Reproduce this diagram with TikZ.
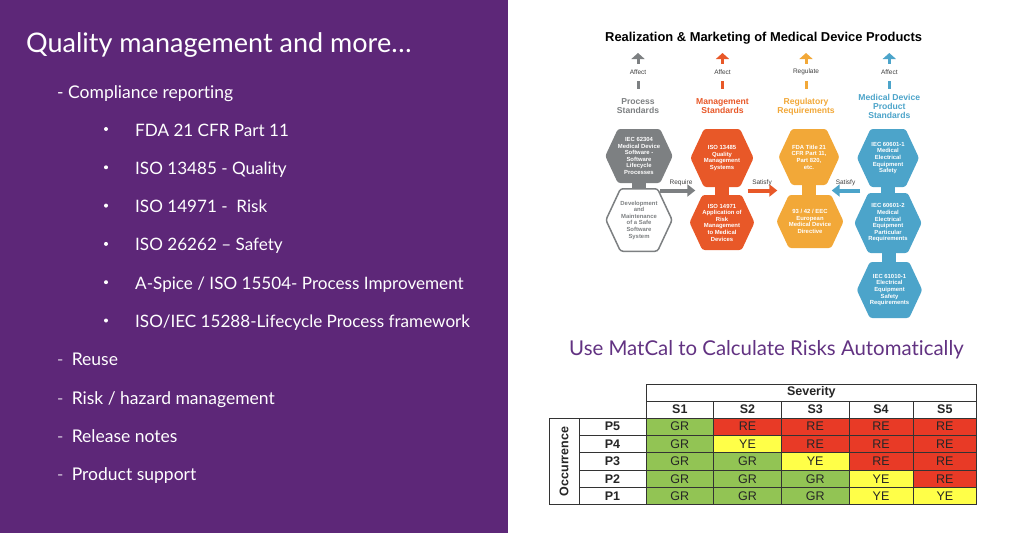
\documentclass[tikz,border=0pt]{standalone}
\usepackage{fontspec}
\setmainfont{Lato}[Ligatures=NoCommon]
\newfontfamily\arial{Liberation Sans}
\usetikzlibrary{positioning,shapes.symbols,arrows.meta,backgrounds}
\definecolor{slidepurple}{RGB}{93,39,120}
\definecolor{titlepurple}{RGB}{98,50,130}
\definecolor{procgray}{RGB}{125,128,130}
\definecolor{mgmtorange}{RGB}{232,88,40}
\definecolor{reggold}{RGB}{242,168,56}
\definecolor{devblue}{RGB}{76,164,202}
\definecolor{GR}{RGB}{146,196,84}
\definecolor{RE}{RGB}{232,58,38}
\definecolor{YE}{RGB}{255,255,72}
\tikzstyle{slidetitle} = [anchor=base west, text=white, inner sep=0, font=\fontsize{27}{32}\selectfont]
\tikzstyle{slideitem} = [anchor=base west, text=white, inner sep=0, font=\fontsize{17.5}{21}\selectfont]
\tikzstyle{bulletitem} = [slideitem, font=\fontsize{17.1}{21}\selectfont]
\tikzstyle{dotmark} = [circle, fill=white, minimum size=4pt, inner sep=0]
\tikzstyle{dashmark} = [anchor=base west, text=white!75!slidepurple, inner sep=0, font=\fontsize{17}{20}\selectfont]
\tikzstyle{hexa} = [signal, signal to=west and east, signal pointer angle=130, rounded corners=2.5pt, inner sep=0pt, align=center, text=white, font=\arial\bfseries\fontsize{5.9}{6.6}\selectfont]
\tikzstyle{neck} = [rectangle, minimum width=13pt, minimum height=16pt, inner sep=0]
\tikzstyle{colhead} = [align=center, inner sep=0, font=\arial\bfseries\fontsize{8.6}{9}\selectfont]
\tikzstyle{tag} = [inner sep=0, text=black!75, font=\arial\fontsize{6.5}{7}\selectfont]
\tikzstyle{bar} = [rectangle, minimum width=3pt, minimum height=8pt, inner sep=0]
\tikzstyle{flow} = [line width=4pt, -{Triangle[width=12pt,length=8pt]}]
\tikzstyle{icon} = [line width=3pt, -{Triangle[width=13pt,length=6pt]}]
\tikzstyle{cell} = [draw=black!80, line width=0.9pt, minimum height=17.35pt, inner sep=0, outer sep=0, text=black!85, font=\arial\fontsize{12.5}{13}\selectfont]
\tikzstyle{boldcell} = [cell, font=\arial\bfseries\fontsize{12.5}{13}\selectfont]

\begin{document}
\begin{tikzpicture}[x=1pt, y=-1pt]
\useasboundingbox (0,0) rectangle (1024,533);

% slide text
\node[slidetitle] (title) at (26,52) {Quality management and more…};
\node[slideitem] (compliance) at (57,98.5) {- Compliance reporting};
\foreach \txt [count=\i from 0] in {FDA 21 CFR Part 11, ISO 13485 - Quality, ISO 14971 - \ Risk, ISO 26262 – Safety, A-Spice / ISO 15504- Process Improvement, ISO/IEC 15288-Lifecycle Process framework}{
	\node[dotmark] (dot\i) at (106,129+38.3*\i) {};
	\node[bulletitem] (item\i) at (135,136+38.3*\i) {\txt};
}
\foreach \txt [count=\i from 6] in {Reuse, Risk / hazard management, Release notes, Product support}{
	\node[dashmark] (dash\i) at (57,136+38.3*\i) {-};
	\node[slideitem] (item\i) at (71.6,136+38.3*\i) {\txt};
}

% standards diagram
\node[anchor=base west, inner sep=0, font=\arial\bfseries\fontsize{12.9}{14}\selectfont] (rmtitle) at (605,41.7) {Realization \& Marketing of Medical Device Products};
\foreach \n/\x/\col/\act/\hd in {proc/638/procgray/Affect/{Process\\Standards}, mgmt/722.5/mgmtorange/Affect/{Management\\Standards}, reg/806/reggold/Regulate/{Regulatory\\Requirements}, dev/889.3/devblue/Affect/{Medical Device\\Product\\Standards}}{
	\coordinate (\n tail) at (\x,63.5);
	\coordinate (\n tip) at (\x,53);
	\draw[icon, \col] (\n tail) -- (\n tip);
	\node[tag] (\n tag) at (\x,71.7) {\act};
	\node[bar, fill=\col] (\n bar) at (\x,84.5) {};
	\node[colhead, text=\col] (\n head) at (\x,106.5) {\hd};
}

\node[hexa, fill=procgray, minimum width=64pt, minimum height=54pt] (proc1) at (639,156) {IEC 62304\\Medical Device\\Software -\\Software\\Lifecycle\\Processes};
\node[hexa, fill=white, draw=procgray, line width=1.5pt, text=procgray, minimum width=62.5pt, minimum height=62.5pt] (proc2) at (639,220) {Development\\and\\Maintenance\\of a Safe\\Software\\System};
\node[hexa, fill=mgmtorange, minimum width=62pt, minimum height=58pt] (mgmt1) at (722,158) {ISO 13485\\Quality\\Management\\Systems};
\node[hexa, fill=mgmtorange, minimum width=62pt, minimum height=55pt] (mgmt2) at (722,222.5) {ISO 14971\\Application of\\Risk\\Management\\to Medical\\Devices};
\node[hexa, fill=reggold, minimum width=58pt, minimum height=56pt] (reg1) at (809,157) {FDA Title 21\\CFR Part 11,\\Part 820,\\etc.};
\node[hexa, fill=reggold, minimum width=60pt, minimum height=53pt] (reg2) at (810,221.5) {93 / 42 / EEC\\European\\Medical Device\\Directive};
\node[hexa, fill=devblue, minimum width=62pt, minimum height=58pt] (dev1) at (888,158) {IEC 60601-1\\Medical\\Electrical\\Equipment\\Safety};
\node[hexa, fill=devblue, minimum width=62pt, minimum height=60pt] (dev2) at (888,223) {IEC 60601-2\\Medical\\Electrical\\Equipment\\Particular\\Requirements};
\node[hexa, fill=devblue, minimum width=63pt, minimum height=56pt] (dev3) at (889.5,290) {IEC 61010-1\\Electrical\\Equipment\\Safety\\Requirements};

\node[neck] (procneck) at (639,185.5) {};
\node[neck] (mgmtneck) at (722,190.5) {};
\node[neck] (regneck) at (809,190.5) {};
\node[neck] (devneck) at (888,190.5) {};
\node[neck] (devneckb) at (889,257.5) {};

\draw[flow, procgray, shorten <=21pt, shorten >=20pt] (procneck |- mgmtneck) -- (mgmtneck);
\draw[flow, mgmtorange, shorten <=19pt, shorten >=25pt] (mgmtneck) -- (regneck);
\draw[flow, devblue, shorten <=21pt, shorten >=16pt] (devneck) -- (regneck);
\node[tag] (require) at (681,183.3) {Require};
\node[tag] (satisfya) at (762,182.5) {Satisfy};
\node[tag] (satisfyb) at (845.5,183) {Satisfy};

% risk matrix
\node[anchor=base west, inner sep=0, text=titlepurple, font=\fontsize{20.4}{24}\selectfont] (mctitle) at (569,355) {Use MatCal to Calculate Risks Automatically};
\node[boldcell, minimum width=330.7pt, minimum height=17pt] (severity) at (811.35,392.5) {Severity};
\foreach \k in {1,...,5}{
	\pgfmathsetmacro\cx{{679.85,747.5,815.15,881,944.85}[\k-1]}
	\pgfmathsetmacro\cw{{67.7,67.6,67.7,64,63.7}[\k-1]}
	\node[boldcell, minimum width=\cw pt, minimum height=17pt] (s\k) at (\cx,409.5) {S\k};
}
\node[boldcell, rotate=90, minimum width=86.75pt, minimum height=30pt] (occurrence) at (564,461.4) {Occurrence};
\foreach \codes [count=\r] in {{GR,RE,RE,RE,RE},{GR,YE,RE,RE,RE},{GR,GR,YE,RE,RE},{GR,GR,GR,YE,RE},{GR,GR,GR,YE,YE}}{
	\pgfmathtruncatemacro\p{6-\r}
	\node[boldcell, minimum width=67pt] (p\p) at (612.5,409.325+17.35*\r) {P\p};
	\foreach \c [count=\k] in \codes {
		\pgfmathsetmacro\cx{{679.85,747.5,815.15,881,944.85}[\k-1]}
		\pgfmathsetmacro\cw{{67.7,67.6,67.7,64,63.7}[\k-1]}
		\node[cell, fill=\c, minimum width=\cw pt] (m\p\k) at (\cx,409.325+17.35*\r) {\c};
	}
}

\begin{scope}[on background layer]
	\fill[white] (0,0) rectangle (1024,533);
	\fill[slidepurple] (0,0) rectangle (508,533);
	\fill[procgray] (procneck.north west) rectangle (procneck.south east);
	\fill[mgmtorange] (mgmtneck.north west) rectangle (mgmtneck.south east);
	\fill[reggold] (regneck.north west) rectangle (regneck.south east);
	\fill[devblue] (devneck.north west) rectangle (devneck.south east);
	\fill[devblue] (devneckb.north west) rectangle (devneckb.south east);
\end{scope}
\end{tikzpicture}
\end{document}
